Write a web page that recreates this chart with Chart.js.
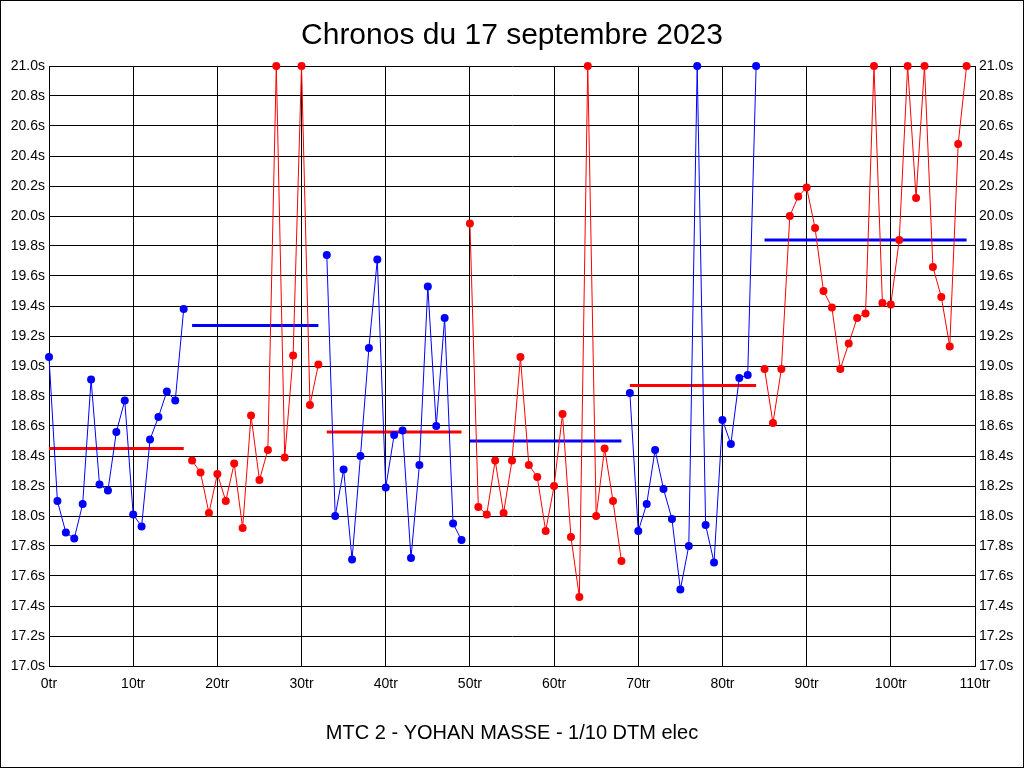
<!DOCTYPE html>
<html>
<head>
<meta charset="utf-8">
<script src="https://cdn.jsdelivr.net/npm/chart.js@4/dist/chart.umd.min.js"></script>
<style>
  html, body { margin: 0; padding: 0; background: #fff; }
  #wrap { width: 1024px; height: 768px; }
</style>
</head>
<body>
<div id="wrap"><canvas id="c" width="1024" height="768"></canvas></div>
<script>
// ---- data ----
const chartTitle = 'Chronos du 17 septembre 2023';
const footerTitle = 'MTC 2 - YOHAN MASSE - 1/10 DTM elec';

const stintStartLaps = [0, 17, 33, 50, 69, 85];
const stint1Times = [19.06,18.10,17.89,17.85,18.08,18.91,18.21,18.17,18.56,18.77,18.01,17.93,18.51,18.66,18.83,18.77,19.38];
const stint2Times = [18.37,18.29,18.02,18.28,18.10,18.35,17.92,18.67,18.24,18.44,21.0,18.39,19.07,21.0,18.74,19.01];
const stint3Times = [19.74,18.00,18.31,17.71,18.40,19.12,19.71,18.19,18.54,18.57,17.72,18.34,19.53,18.60,19.32,17.95,17.84];
const stint4Times = [19.95,18.06,18.01,18.37,18.02,18.37,19.06,18.34,18.26,17.90,18.20,18.68,17.86,17.46,21.0,18.00,18.45,18.10,17.70];
const stint5Times = [18.82,17.90,18.08,18.44,18.18,17.98,17.51,17.80,21.0,17.94,17.69,18.64,18.48,18.92,18.94,21.0];
const stint6Times = [18.98,18.62,18.98,20.00,20.13,20.19,19.92,19.50,19.39,18.98,19.15,19.32,19.35,21.0,19.42,19.41,19.84,21.0,20.12,21.0,19.66,19.46,19.13,20.48,21.0];
const stintAverages = [18.45, 19.27, 18.56, 18.50, 18.87, 19.84];

const xMin = 0, xMax = 110, xStep = 10;
const yMin = 17.0, yMax = 21.0, yStep = 0.2;

// ---- styles ----
const BLUE = '#0000FF', RED = '#FF0000';
const stintColors = [BLUE, RED, BLUE, RED, BLUE, RED];
const avgColors = [RED, BLUE, RED, BLUE, RED, BLUE];
const FONT = "'Liberation Sans', Arial, sans-serif";

const stints = [stint1Times, stint2Times, stint3Times, stint4Times, stint5Times, stint6Times];

const seriesSets = stints.map((times, i) => ({
  label: 'Relais ' + (i + 1),
  data: times.map((t, k) => ({ x: stintStartLaps[i] + k, y: t })),
  borderColor: stintColors[i],
  backgroundColor: stintColors[i],
  borderWidth: 1,
  pointRadius: 4,
  pointBorderWidth: 0,
  pointBackgroundColor: stintColors[i],
  tension: 0,
  clip: false,
  order: 0
}));

const avgSets = stints.map((times, i) => ({
  label: 'Moyenne ' + (i + 1),
  data: [
    { x: stintStartLaps[i], y: stintAverages[i] },
    { x: stintStartLaps[i] + times.length - 1, y: stintAverages[i] }
  ],
  borderColor: avgColors[i],
  backgroundColor: avgColors[i],
  borderWidth: 3,
  pointRadius: 0,
  borderCapStyle: 'butt',
  clip: false,
  order: 1
}));

const frame = {
  id: 'frame',
  afterDraw(chart) {
    const ctx = chart.ctx;
    ctx.save();
    ctx.strokeStyle = '#000';
    ctx.lineWidth = 1;
    ctx.strokeRect(0.5, 0.5, chart.width - 1, chart.height - 1);
    ctx.restore();
  }
};

const yTicks = {
  stepSize: yStep,
  color: '#000',
  font: { family: FONT, size: 14 },
  padding: 4,
  callback: v => Number(v).toFixed(1) + 's'
};

new Chart(document.getElementById('c'), {
  type: 'line',
  data: { datasets: [...seriesSets, ...avgSets] },
  plugins: [frame],
  options: {
    responsive: false,
    animation: false,
    devicePixelRatio: 1,
    layout: { padding: 0 },
    plugins: {
      legend: { display: false },
      tooltip: { enabled: false },
      title: {
        display: true,
        text: chartTitle,
        color: '#000',
        font: { family: FONT, size: 30, weight: 'normal', lineHeight: 1.2 },
        padding: { top: 18, bottom: 12 }
      }
    },
    scales: {
      x: {
        type: 'linear',
        min: xMin, max: xMax,
        afterFit: s => { s.height = 102; },
        ticks: {
          stepSize: xStep,
          color: '#000',
          font: { family: FONT, size: 14 },
          padding: 10,
          maxRotation: 0,
          callback: v => v + 'tr'
        },
        grid: { color: '#000', lineWidth: 1, drawTicks: false },
        border: { display: true, color: '#000', width: 1 },
        title: {
          display: true,
          text: footerTitle,
          color: '#000',
          font: { family: FONT, size: 20, weight: 'normal', lineHeight: 1.2 },
          padding: { top: 0, bottom: 23 }
        }
      },
      y: {
        type: 'linear',
        position: 'left',
        min: yMin, max: yMax,
        afterFit: s => { s.width = 49; },
        ticks: yTicks,
        grid: { color: '#000', lineWidth: 1, drawTicks: false },
        border: { display: true, color: '#000', width: 1 }
      },
      y2: {
        type: 'linear',
        position: 'right',
        min: yMin, max: yMax,
        afterFit: s => { s.width = 49; },
        ticks: yTicks,
        grid: { display: false, drawTicks: false },
        border: { display: true, color: '#000', width: 1 }
      }
    }
  }
});
</script>
</body>
</html>
